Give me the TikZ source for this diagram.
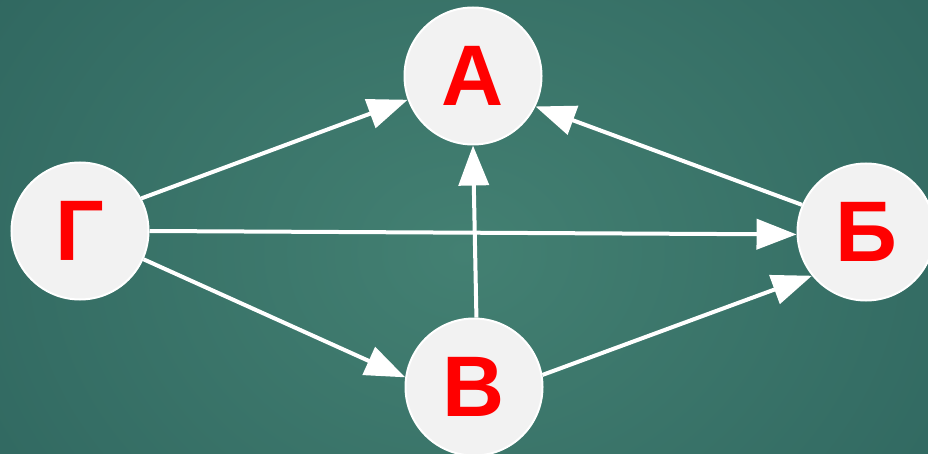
\documentclass[tikz,border=0pt]{standalone}
\usepackage{fontspec}
\setmainfont{Liberation Sans}
\usetikzlibrary{arrows.meta}
\definecolor{bginner}{RGB}{67,128,114}
\definecolor{bgouter}{RGB}{47,102,95}
\definecolor{nodefill}{RGB}{242,242,242}
\definecolor{letter}{RGB}{255,0,0}
\tikzset{
  vertex/.style={circle, minimum size=137pt, inner sep=0pt, fill=nodefill,
    draw=white, line width=2pt, text=letter,
    font=\fontsize{86}{86}\selectfont\bfseries},
  link/.style={draw=white, line width=4pt,
    -{Triangle[length=40pt,width=30pt]}}
}
\begin{document}
\begin{tikzpicture}[x=1pt,y=-1pt]
  % background with a soft radial glow, wider than the page
  \begin{scope}
    \clip (0,0) rectangle (928,454);
    \shade[inner color=bginner, outer color=bgouter] (-150,-250) rectangle (1078,754);
  \end{scope}
  \useasboundingbox (0,0) rectangle (928,454);
  % vertices
  \node[vertex] (A) at (473,76) {А};
  \node[vertex] (G) at (80,231) {Г};
  \node[vertex] (B) at (866,232) {Б};
  \node[vertex] (V) at (474,387) {В};
  % directed edges
  \draw[link] (G.28) -- (A.200);
  \draw[link] (G.0) -- (B.182);
  \draw[link] (G.-24) -- (V.172);
  \draw[link] (V.88) -- (A.270);
  \draw[link] (V.10) -- (B.219);
  \draw[link] (B.157) -- (A.-26);
\end{tikzpicture}
\end{document}
